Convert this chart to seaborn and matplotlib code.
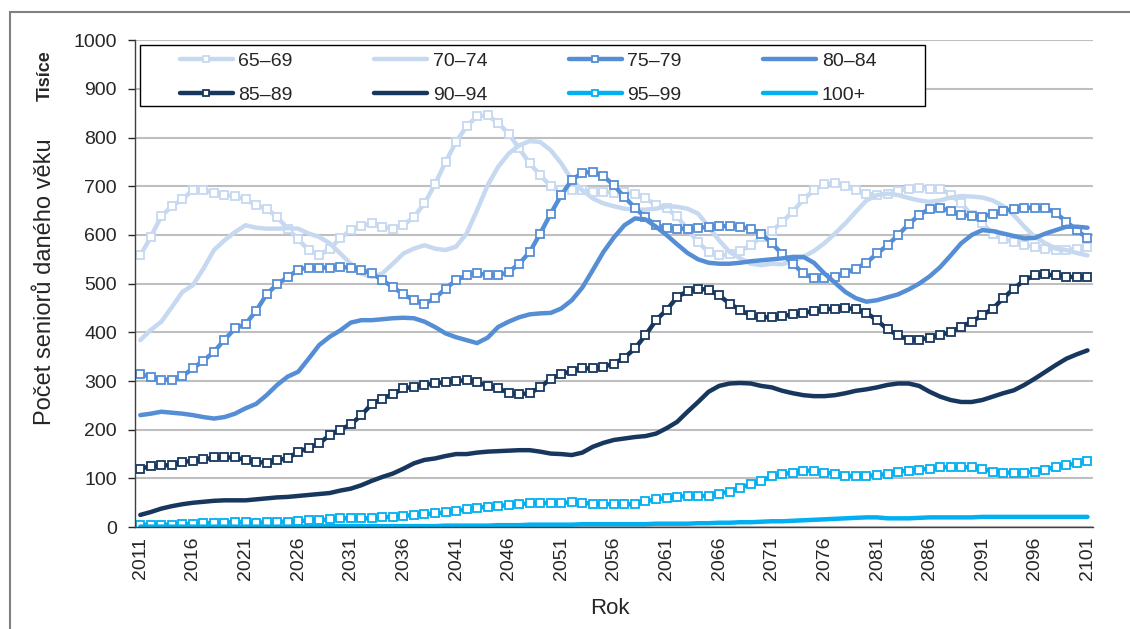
import numpy as np
import pandas as pd
import seaborn as sns
import matplotlib.pyplot as plt

years = np.arange(2011, 2102)

age_65_69 = [558, 596, 639, 659, 673, 693, 693, 686, 682, 680,
             673, 661, 654, 637, 613, 591, 569, 558, 572, 593,
             610, 618, 625, 617, 613, 620, 637, 665, 704, 750,
             791, 823, 844, 846, 830, 808, 778, 747, 723, 700,
             693, 692, 692, 689, 689, 686, 689, 684, 675, 662,
             655, 638, 612, 585, 565, 558, 560, 567, 579, 596,
             608, 627, 648, 673, 692, 704, 707, 700, 692, 685,
             682, 685, 691, 695, 697, 695, 695, 683, 665, 641,
             624, 603, 591, 586, 579, 576, 572, 569, 569, 572, 576]
age_70_74 = [384, 405, 422, 452, 483, 497, 531, 569, 589, 606,
             620, 615, 613, 613, 614, 613, 603, 596, 583, 562,
             541, 521, 514, 521, 541, 562, 572, 579, 572, 569,
             576, 603, 651, 702, 740, 767, 784, 793, 791, 774,
             747, 713, 692, 675, 665, 659, 654, 652, 652, 654,
             659, 658, 654, 644, 617, 589, 565, 552, 541, 538,
             541, 540, 547, 555, 567, 583, 603, 624, 648, 671,
             682, 685, 682, 676, 671, 668, 671, 677, 680, 679,
             677, 671, 659, 641, 617, 596, 583, 572, 569, 563, 558]
age_75_79 = [314, 309, 303, 303, 310, 326, 342, 360, 385, 408,
             417, 444, 478, 499, 513, 529, 533, 533, 533, 534,
             533, 529, 521, 507, 493, 478, 466, 459, 470, 490,
             507, 517, 522, 517, 517, 524, 541, 565, 603, 644,
             682, 713, 728, 730, 721, 702, 678, 656, 636, 620,
             615, 613, 613, 614, 617, 618, 618, 617, 613, 603,
             583, 561, 541, 521, 511, 511, 514, 522, 531, 543,
             562, 579, 600, 622, 641, 654, 656, 649, 641, 639,
             637, 644, 649, 654, 656, 656, 656, 645, 627, 610, 593]
age_80_84 = [230, 233, 237, 235, 233, 230, 226, 223, 226, 233,
             244, 253, 271, 292, 309, 319, 346, 374, 391, 404,
             420, 425, 425, 427, 429, 430, 429, 422, 411, 398,
             390, 384, 378, 389, 411, 422, 431, 437, 439, 440,
             449, 466, 492, 528, 565, 595, 620, 634, 632, 617,
             600, 581, 563, 550, 543, 541, 541, 543, 546, 548,
             550, 552, 555, 555, 543, 521, 502, 483, 470, 463,
             466, 472, 478, 488, 500, 515, 534, 558, 583, 600,
             610, 608, 603, 598, 593, 594, 603, 610, 617, 617, 615]
age_85_89 = [120, 125, 127, 127, 134, 136, 139, 143, 143, 143,
             138, 134, 132, 138, 141, 155, 162, 172, 189, 200,
             211, 230, 253, 264, 273, 285, 288, 292, 295, 298,
             300, 302, 298, 290, 285, 276, 273, 275, 287, 305,
             314, 321, 326, 326, 329, 336, 348, 367, 394, 425,
             446, 472, 485, 490, 487, 476, 459, 446, 435, 431,
             431, 433, 437, 440, 444, 447, 449, 451, 447, 440,
             425, 406, 394, 385, 385, 389, 394, 401, 411, 422,
             435, 449, 470, 490, 507, 517, 519, 517, 514, 514, 514]
age_90_94 = [25, 31, 38, 43, 47, 50, 52, 54, 55, 55,
             55, 57, 59, 61, 62, 64, 66, 68, 70, 75,
             79, 86, 95, 103, 110, 120, 131, 138, 141, 146,
             150, 150, 153, 155, 156, 157, 158, 158, 155, 151,
             150, 148, 153, 165, 173, 179, 182, 185, 187, 192,
             203, 216, 237, 257, 278, 290, 295, 296, 295, 290,
             287, 280, 275, 271, 269, 269, 271, 275, 280, 283,
             287, 292, 295, 295, 290, 278, 268, 261, 257, 257,
             261, 268, 275, 281, 292, 305, 319, 333, 346, 355, 363]
age_95_99 = [5, 5, 5, 5, 6, 7, 8, 9, 9, 11,
             10, 9, 10, 11, 11, 12, 14, 14, 16, 18,
             18, 18, 18, 20, 21, 23, 25, 27, 28, 30,
             33, 37, 40, 42, 43, 46, 47, 49, 49, 50,
             50, 51, 50, 48, 47, 47, 47, 47, 53, 57,
             60, 62, 64, 64, 64, 69, 73, 81, 88, 94,
             105, 109, 112, 116, 116, 112, 109, 105, 105, 105,
             107, 109, 114, 116, 118, 120, 123, 123, 123, 123,
             120, 114, 112, 112, 112, 114, 118, 124, 127, 131, 136]
age_100 = [1, 1, 1, 1, 1, 1, 1, 1, 1, 1,
           1, 1, 1, 1, 1, 1, 1, 1, 2, 2,
           2, 2, 2, 2, 2, 2, 2, 2, 2, 3,
           3, 3, 3, 3, 4, 4, 4, 5, 5, 5,
           5, 5, 6, 6, 6, 6, 6, 6, 6, 7,
           7, 7, 7, 8, 8, 9, 9, 10, 10, 11,
           12, 12, 13, 14, 15, 16, 17, 18, 19, 20,
           20, 18, 18, 18, 19, 20, 20, 20, 20, 20,
           21, 21, 21, 21, 21, 21, 21, 21, 21, 21, 21]

labels = ["65–69", "70–74", "75–79", "80–84", "85–89", "90–94", "95–99", "100+"]
series = [age_65_69, age_70_74, age_75_79, age_80_84,
          age_85_89, age_90_94, age_95_99, age_100]
colors = ["#C6D9F1", "#C6D9F1", "#558ED5", "#558ED5",
          "#17375E", "#17375E", "#00B0F0", "#00B0F0"]
with_marker = [True, False, True, False, True, False, True, False]

sns.set_style("white")
plt.rcParams['font.family'] = ['Liberation Sans', 'DejaVu Sans']

fig = plt.figure(figsize=(11.3, 6.29), dpi=100)
ax = fig.add_axes([0.1195, 0.162, 0.848, 0.774])

for lab, vals, col, mk in zip(labels, series, colors, with_marker):
    df = pd.DataFrame({"rok": years, "pocet": vals})
    kw = dict(color=col, linewidth=3.2, label=lab, legend=False)
    if mk:
        kw.update(marker="s", markersize=5.3, markerfacecolor="white",
                  markeredgecolor=col, markeredgewidth=1.3)
    sns.lineplot(data=df, x="rok", y="pocet", ax=ax, **kw)

ax.set_xlim(2010.5, 2101.55)
ax.set_ylim(0, 1000)
ax.set_yticks(np.arange(0, 1001, 100))
ax.set_xticks(years[::5])
ax.set_xticklabels([str(y) for y in years[::5]], rotation=90)
ax.set_xticks(np.arange(2010.5, 2102, 1), minor=True)
ax.tick_params(axis="x", which="major", length=0, pad=7, labelsize=14, colors="#262626")
ax.tick_params(axis="x", which="minor", length=5, width=1, direction="out", color="#404040")
ax.tick_params(axis="y", length=5, width=1, direction="out", pad=8, labelsize=14,
               colors="#262626", left=True)
ax.yaxis.grid(True, color="#BFBFBF", linewidth=1.5)
ax.set_axisbelow(True)
for s in ["top", "right"]:
    ax.spines[s].set_visible(False)
for s in ["left", "bottom"]:
    ax.spines[s].set_color("#404040")
    ax.spines[s].set_linewidth(1)

ax.set_xlabel("Rok", fontsize=16, color="#262626")
ax.xaxis.set_label_coords(0.496, -0.145)
ax.set_ylabel("")
fig.text(45 / 1130, 1 - 282 / 629, "Počet seniorů daného věku", rotation=90,
         ha="center", va="center", fontsize=17, color="#262626")
fig.text(45 / 1130, 1 - 76 / 629, "Tisíce", rotation=90, ha="center", va="center",
         fontsize=13, fontweight="bold", color="#262626")

# legend box drawn separately so the entries can sit indented inside it
ax.add_patch(plt.Rectangle((0.0052, 0.8645), 0.8194, 0.1252, transform=ax.transAxes,
                           facecolor="white", edgecolor="black", linewidth=1,
                           zorder=4, clip_on=False))
handles, labs = ax.get_legend_handles_labels()
order = [0, 4, 1, 5, 2, 6, 3, 7]
leg = ax.legend([handles[i] for i in order], [labs[i] for i in order],
                ncol=4, loc="upper left", bbox_to_anchor=(0.047, 0.976),
                fontsize=14, handlelength=2.7, handletextpad=0.3,
                labelspacing=0.85, borderpad=0, borderaxespad=0,
                columnspacing=4.2, frameon=False, numpoints=1, markerscale=0.8)
leg.set_zorder(5)

fig.add_artist(plt.Rectangle((10 / 1130, -0.05), 1.2, 1.031, transform=fig.transFigure,
                             fill=False, edgecolor="#808080", linewidth=1.5))

fig.savefig("out.png", dpi=100)
